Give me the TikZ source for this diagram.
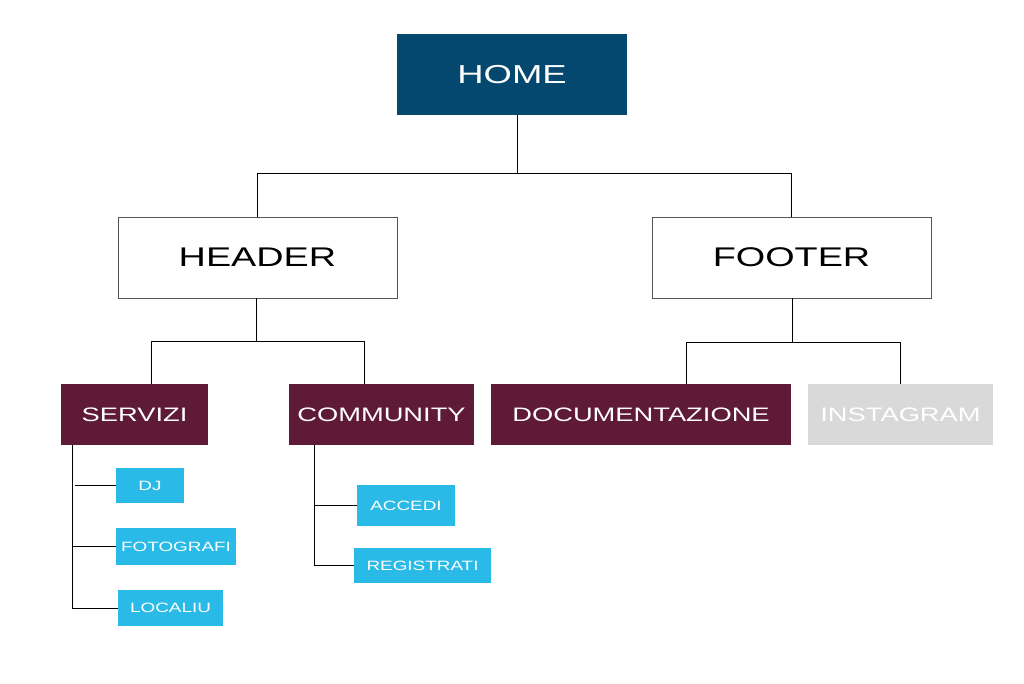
\documentclass[tikz,border=0pt]{standalone}
\usepackage{fontspec}
\setmainfont{Liberation Sans}[FakeStretch=1.4]
\definecolor{homeblue}{HTML}{05486F}
\definecolor{maroon}{HTML}{5E1A36}
\definecolor{skyblue}{HTML}{29BAE8}
\definecolor{softgray}{HTML}{D9D9D9}
\definecolor{edgegray}{HTML}{555555}
\begin{document}
\begin{tikzpicture}[x=1pt,y=-1pt,
  box/.style={rectangle,inner sep=0pt,anchor=center},
  topbox/.style={box,fill=homeblue,text=white,font=\fontsize{26}{30}\selectfont},
  sectionbox/.style={box,fill=white,draw=edgegray,line width=0.8pt,text=black,font=\fontsize{27}{30}\selectfont},
  groupbox/.style={box,fill=maroon,text=white,font=\fontsize{19.5}{24}\selectfont},
  greybox/.style={box,fill=softgray,text=white,font=\fontsize{19.5}{24}\selectfont},
  itembox/.style={box,fill=skyblue,text=white,font=\fontsize{13.5}{16}\selectfont},
  link/.style={draw=black,line width=0.9pt}]
\useasboundingbox (0,0) rectangle (1024,683);

% top level
\node[topbox,minimum width=230pt,minimum height=81pt] (home) at (512,74.5) {HOME};

% sections
\node[sectionbox,minimum width=279pt,minimum height=81pt] (header) at (257.5,257.5) {HEADER};
\node[sectionbox,minimum width=279pt,minimum height=81pt] (footer) at (791.5,257.5) {FOOTER};

% groups
\node[groupbox,minimum width=147pt,minimum height=61pt] (servizi) at (134.5,414.5) {SERVIZI};
\node[groupbox,minimum width=185pt,minimum height=61pt] (community) at (381.5,414.5) {COMMUNITY};
\node[groupbox,minimum width=300pt,minimum height=61pt] (docs) at (641,414.5) {DOCUMENTAZIONE};
\node[greybox,minimum width=185pt,minimum height=61pt] (insta) at (900.5,414.5) {INSTAGRAM};

% items
\node[itembox,minimum width=68pt,minimum height=35pt] (dj) at (150,485.5) {DJ};
\node[itembox,minimum width=120pt,minimum height=37pt] (foto) at (176,546.5) {FOTOGRAFI};
\node[itembox,minimum width=105pt,minimum height=36pt] (locali) at (170.5,608) {LOCALIU};
\node[itembox,minimum width=98pt,minimum height=41pt] (accedi) at (406,505.5) {ACCEDI};
\node[itembox,minimum width=137pt,minimum height=35pt] (registrati) at (422.5,565.5) {REGISTRATI};

% junctions
\coordinate (j0) at (517,173);
\coordinate (j1) at (256,341);
\coordinate (j2) at (792,342);
\coordinate (st) at (72,445);
\coordinate (ct) at (314,445);

% home -> header / footer
\draw[link] (home.south -| j0) -- (j0);
\draw[link] (header.north) -- (header.north |- j0) -- (footer.north |- j0) -- (footer.north);

% header -> servizi / community
\draw[link] (header.south -| j1) -- (j1);
\draw[link] (servizi.north -| 151,0) -- (151,341) -- (364,341) -- (community.north -| 364,0);

% footer -> documentazione / instagram
\draw[link] (footer.south -| j2) -- (j2);
\draw[link] (docs.north -| 686,0) -- (686,342) -- (900,342) -- (insta.north -| 900,0);

% servizi items
\draw[link] (st) |- (locali.west);
\draw[link] (st |- foto.west) -- (foto.west);
\draw[link] (75,0 |- dj.west) -- (dj.west);

% community items
\draw[link] (ct) |- (registrati.west);
\draw[link] (ct |- accedi.west) -- (accedi.west);
\end{tikzpicture}
\end{document}
